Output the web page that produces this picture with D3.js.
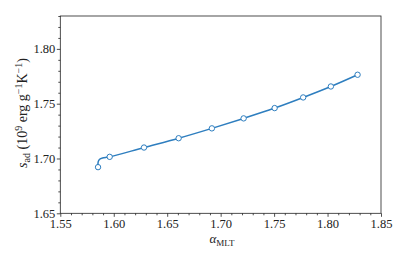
<!DOCTYPE html>
<html><head><meta charset="utf-8">
<script src="https://cdn.jsdelivr.net/npm/d3@7"></script>
<style>
body{margin:0;background:#fff;}
text{font-family:"Liberation Serif","DejaVu Serif",serif;fill:#222;}
</style></head>
<body><svg id="c" width="407" height="262"></svg>
<script>
// marker points
const markerAlpha = [1.5853,1.5962,1.6283,1.6607,1.6918,1.7215,1.7505,1.7772,1.8031,1.8281];
const markerS     = [1.6921,1.7015,1.7100,1.7185,1.7275,1.7366,1.7460,1.7557,1.7657,1.7764];
// line points (includes the curved start segment)
const lineAlpha = [1.5853,1.5852,1.5856,1.5868,1.5895,1.5962,1.6283,1.6607,1.6918,1.7215,1.7505,1.7772,1.8031,1.8281];
const lineS     = [1.6921,1.6950,1.6974,1.6993,1.7005,1.7015,1.7100,1.7185,1.7275,1.7366,1.7460,1.7557,1.7657,1.7764];
const xTicks = [1.55,1.60,1.65,1.70,1.75,1.80,1.85];
const yTicks = [1.65,1.70,1.75,1.80];

const svg = d3.select("#c");
const L=60.3, R=381, T=16, B=213.3;
const x = d3.scaleLinear().domain([1.55,1.85]).range([L,R]);
const y = d3.scaleLinear().domain([1.65,1.83]).range([B,T]);
const col = "#2e7ebf";

// minor ticks
const xMinor = d3.range(155,186,1).map(v=>v/100).filter(v=>!xTicks.some(t=>Math.abs(t-v)<1e-6));
const yMinor = d3.range(165,184,1).map(v=>v/100).filter(v=>!yTicks.some(t=>Math.abs(t-v)<1e-6));

svg.append("g").attr("transform",`translate(0,${B})`)
  .call(d3.axisBottom(x).tickValues(xTicks).tickFormat(d3.format(".2f")).tickSize(3.5).tickPadding(2.5));
svg.append("g").attr("transform",`translate(0,${B})`)
  .call(d3.axisBottom(x).tickValues(xMinor).tickFormat("").tickSize(2))
  .call(g=>g.select(".domain").remove());
svg.append("g").attr("transform",`translate(${L},0)`)
  .call(d3.axisLeft(y).tickValues(yTicks).tickFormat(d3.format(".2f")).tickSize(3.5).tickPadding(1.5));
svg.append("g").attr("transform",`translate(${L},0)`)
  .call(d3.axisLeft(y).tickValues(yMinor).tickFormat("").tickSize(2))
  .call(g=>g.select(".domain").remove());
svg.selectAll(".domain").remove();
svg.selectAll(".tick line").attr("stroke","#222").attr("stroke-width",0.8);
svg.selectAll(".tick text").attr("font-size","12.5px").attr("fill","#222")
  .style("font-family","'Liberation Serif','DejaVu Serif',serif");

svg.append("rect").attr("x",L).attr("y",T).attr("width",R-L).attr("height",B-T)
  .attr("fill","none").attr("stroke","#222").attr("stroke-width",0.8);

const lineData = lineAlpha.map((a,i)=>[a,lineS[i]]);
svg.append("path").datum(lineData)
  .attr("d",d3.line().x(d=>x(d[0])).y(d=>y(d[1])).curve(d3.curveCatmullRom))
  .attr("fill","none").attr("stroke",col).attr("stroke-width",1.5);

svg.selectAll("circle.m").data(markerAlpha.map((a,i)=>[a,markerS[i]])).enter()
  .append("circle").attr("class","m")
  .attr("cx",d=>x(d[0])).attr("cy",d=>y(d[1])).attr("r",2.7)
  .attr("fill","#fff").attr("stroke",col).attr("stroke-width",1);

// x label
const xl = svg.append("text").attr("x",222).attr("y",243).attr("text-anchor","middle")
  .attr("font-size","13px");
xl.append("tspan").text("α").style("font-style","italic");
xl.append("tspan").text("MLT").attr("font-size","9px").attr("dy",2.5);

// y label
const yl = svg.append("text").attr("transform",`translate(26.5,113) rotate(-90)`)
  .attr("text-anchor","middle").attr("font-size","14px");
yl.append("tspan").text("s").style("font-style","italic");
yl.append("tspan").text("ad").attr("font-size","10px").attr("dy",3);
yl.append("tspan").text(" (10").attr("dy",-3);
yl.append("tspan").text("9").attr("font-size","10px").attr("dy",-5);
yl.append("tspan").text(" erg g").attr("dy",5);
yl.append("tspan").text("−1").attr("font-size","10px").attr("dy",-5);
yl.append("tspan").text("K").attr("dy",5);
yl.append("tspan").text("−1").attr("font-size","10px").attr("dy",-5);
yl.append("tspan").text(")").attr("dy",5);
</script></body></html>
